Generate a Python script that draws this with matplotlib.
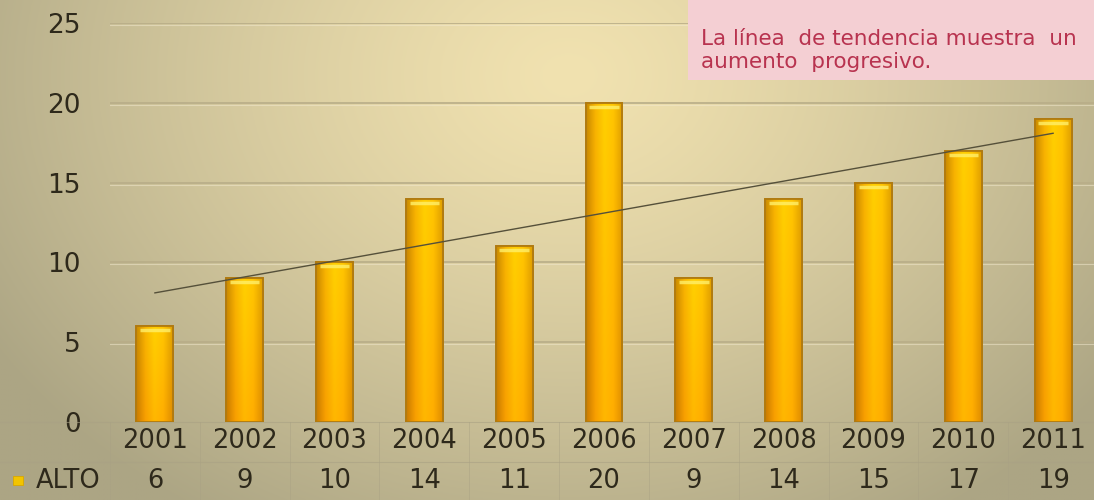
import numpy as np
import matplotlib
matplotlib.use("Agg")
import matplotlib.pyplot as plt
from matplotlib.colors import LinearSegmentedColormap
import matplotlib.transforms as mtransforms

# Data
years = ["2001", "2002", "2003", "2004", "2005", "2006", "2007", "2008", "2009", "2010", "2011"]
alto = [6, 9, 10, 14, 11, 20, 9, 14, 15, 17, 19]
series_name = "ALTO"
yticks = [0, 5, 10, 15, 20, 25]
note_lines = ["La línea  de tendencia muestra  un", "aumento  progresivo."]

W, H, DPI = 10.94, 5.00, 100
fig = plt.figure(figsize=(W, H), dpi=DPI)

# Radial backdrop: light cream near top centre, khaki-grey towards the edges
bg = fig.add_axes([0, 0, 1, 1], zorder=-10)
bg.set_axis_off()
gx, gy = np.meshgrid(np.linspace(0, 1, 600), np.linspace(0, 1, 300))
r = np.sqrt(((gx - 0.52) / 0.62) ** 2 + ((gy - 0.15) / 1.05) ** 2)
r = np.clip(r, 0, 1)
c_in = np.array([241, 226, 176]) / 255
c_out = np.array([172, 165, 132]) / 255
img = c_in[None, None, :] * (1 - r[..., None] ** 1.3) + c_out[None, None, :] * (r[..., None] ** 1.3)
bg.imshow(img, extent=[0, 1, 0, 1], aspect="auto", origin="upper")
bg.set_xlim(0, 1)
bg.set_ylim(0, 1)

ax = fig.add_axes([110 / 1094, 1 - 422 / 500, 988 / 1094, 399 / 500])
ax.patch.set_alpha(0)
x = np.arange(len(years))
ax.set_xlim(-0.5, len(years) - 0.5)
ax.set_ylim(0, 25)

txt_color = "#2e291b"
grid_color = "#b8ad88"

# Horizontal gridlines with a soft highlight under each
for v in yticks[1:]:
    ax.axhline(v, color=grid_color, lw=1.2, zorder=1)
    ax.axhline(v - 0.12, color="#f3ead0", lw=0.8, alpha=0.5, zorder=1)

# Gold bars with a gradient fill
bars = ax.bar(x, alto, width=0.41, color="#f5b800", edgecolor="#b07a10", linewidth=1.2, zorder=3)
gold = LinearSegmentedColormap.from_list("gold", ["#c88a00", "#f8b400", "#ffd000", "#ffc400", "#e0a000"])
for b in bars:
    x0, y0 = b.get_x(), b.get_y()
    w, h = b.get_width(), b.get_height()
    hx = np.linspace(0, 1, 64)[None, :]
    hy = np.linspace(0, 1, 64)[:, None]
    grad = hx * np.ones_like(hy)
    rgba = gold(grad)
    # a touch more orange towards the bottom
    rgba[..., 1] = rgba[..., 1] * (0.88 + 0.12 * hy)
    im = ax.imshow(rgba, extent=[x0, x0 + w, y0, y0 + h], origin="lower",
                   aspect="auto", zorder=3.5, interpolation="bilinear")
    im.set_clip_path(b)
    ax.plot([x0 + w * 0.1, x0 + w * 0.9], [y0 + h - 0.25, y0 + h - 0.25],
            color="#fff06a", lw=2.5, alpha=0.8, zorder=3.6, solid_capstyle="butt")
    ax.add_patch(plt.Rectangle((x0, y0), w, h, fill=False, edgecolor="#b07a10", lw=1.3, zorder=3.7))

# Linear trend line
coef = np.polyfit(x, alto, 1)
ax.plot(x, np.polyval(coef, x), color="#55503a", lw=1.0, zorder=4)

ax.set_yticks(yticks)
ax.set_yticklabels([str(t) for t in yticks], fontsize=19, color=txt_color)
ax.tick_params(axis="y", length=0, pad=21)
ax.set_xticks([])
for s in ax.spines.values():
    s.set_visible(False)

# Data table under the plot
trans = mtransforms.blended_transform_factory(ax.transData, fig.transFigure)
for i, (yr, v) in enumerate(zip(years, alto)):
    ax.text(i, 1 - 441 / 500, yr, transform=trans, ha="center", va="center",
            fontsize=18.5, color=txt_color)
    ax.text(i, 1 - 481 / 500, str(v), transform=trans, ha="center", va="center",
            fontsize=18.5, color=txt_color)
line_col = "#a9a184"
for k in range(len(years) + 1):
    ax.plot([k - 0.5, k - 0.5], [1 - 422 / 500, 0], transform=trans, color=line_col,
            lw=0.7, alpha=0.45, clip_on=False)
ax.plot([-0.5 - 110 / 89.8, len(years) - 0.5], [1 - 422 / 500] * 2, transform=trans,
        color=line_col, lw=0.8, alpha=0.6, clip_on=False)
ax.plot([-0.5 - 110 / 89.8, len(years) - 0.5], [1 - 462 / 500] * 2, transform=trans,
        color=line_col, lw=0.8, alpha=0.6, clip_on=False)

fig.text(36 / 1094, 1 - 481 / 500, series_name, ha="left", va="center", fontsize=18.5, color=txt_color)
fig.patches.append(plt.Rectangle((13 / 1094, 1 - 485 / 500), 10 / 1094, 9 / 500,
                                 transform=fig.transFigure, facecolor="#f2c400",
                                 edgecolor="#d8a800", lw=0.6))

# Note box in the upper right
fig.patches.append(plt.Rectangle((688 / 1094, 1 - 80 / 500), 420 / 1094, 80 / 500,
                                 transform=fig.transFigure, facecolor="#f4cfd3",
                                 edgecolor="none", zorder=5))
for j, line in enumerate(note_lines):
    fig.text(701 / 1094, 1 - (39 + j * 23) / 500, line, ha="left", va="center",
             fontsize=15.5, color="#b8334f", family="DejaVu Sans", zorder=6)

fig.savefig("out.png", dpi=DPI)
